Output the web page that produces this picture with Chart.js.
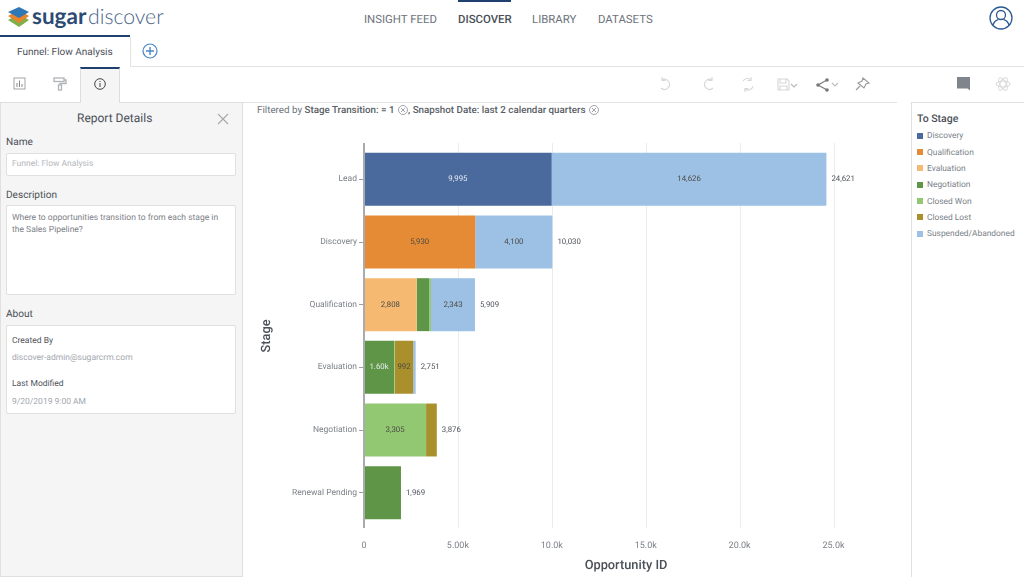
<!DOCTYPE html>
<html>
<head>
<meta charset="utf-8">
<title>Funnel: Flow Analysis</title>
<script src="https://cdn.jsdelivr.net/npm/chart.js@4"></script>
<style>
  html, body { margin: 0; padding: 0; background: #fff; overflow: hidden; }
  body { width: 1024px; height: 577px; position: relative; font-family: Roboto, sans-serif; color: #5c626b; text-rendering: geometricPrecision; }
  .t { position: absolute; white-space: nowrap; line-height: 14px; margin-top: -6.5px; }
  .box { position: absolute; box-sizing: border-box; }
  svg { position: absolute; overflow: visible; }
  canvas { position: absolute; left: 250px; top: 130px; }
  .nav { font-size: 11.4px; color: #6d737b; }
  .lbl { font-size: 10.1px; color: #4b5058; }
  .field { background: #fff; border: 1px solid #e0e0e0; border-radius: 2px; }
  .sm { font-size: 8.5px; color: #a3a7ad; }
  .smd { font-size: 8.5px; color: #4f545c; }
  .leg { font-size: 8.4px; color: #7a7f87; }
</style>
</head>
<body>

<!-- logo -->
<svg width="60" height="36" style="left:0;top:0">
  <path d="M8 20 L19 14 L29 20 L19 27 Z" fill="#7db04b"/>
  <path d="M8 16 L19 10 L29 16 L19 23 Z" fill="#e8842c"/>
  <path d="M8 12 L19 7 L29 12 L19 18 Z" fill="#2f77b5"/>
</svg>
<div class="t" style="left:32px;top:16px;font:700 22.5px/28px Lato,sans-serif;margin-top:-14px;color:#2b4a74">sugar</div>
<div class="t" style="left:88px;top:16px;font:300 21.2px/28px Lato,sans-serif;margin-top:-14px;color:#4a6488">discover</div>

<!-- top nav -->
<div class="t nav" style="left:364px;top:18px">INSIGHT FEED</div>
<div class="t nav" style="left:458px;top:18px;font-weight:500;color:#4b5058">DISCOVER</div>
<div class="box" style="left:458px;top:0;width:53px;height:2px;background:#1f3f6e"></div>
<div class="t nav" style="left:532px;top:18px">LIBRARY</div>
<div class="t nav" style="left:598px;top:18px">DATASETS</div>
<svg width="24" height="24" style="left:989px;top:6px" fill="none" stroke="#2f5b94" stroke-width="1.3">
  <circle cx="12" cy="12" r="11"/><circle cx="12" cy="9" r="4.5"/>
  <path d="M4 19.5 C5 14.5 8 14 9.5 13.5 M20 19.5 C19 14.5 16 14 14.5 13.5"/>
</svg>

<!-- report tab row -->
<div class="box" style="left:0;top:35px;width:130px;height:2px;background:#1f3f6e"></div>
<div class="box" style="left:130px;top:37px;width:1px;height:30px;background:#e2e2e2"></div>
<div class="box" style="left:130px;top:66px;width:894px;height:1px;background:#e2e2e2"></div>
<div class="t" style="left:17px;top:52px;font-size:10px;color:#4b5058">Funnel: Flow Analysis</div>
<svg width="16" height="16" style="left:142px;top:43px" fill="none" stroke="#4a86c8" stroke-width="1.2">
  <circle cx="8" cy="8" r="7"/><path d="M8 4V12M4 8H12" stroke-width="1.4"/>
</svg>

<!-- tool row -->
<svg width="14" height="14" style="left:13px;top:77px" fill="none" stroke="#a0a4a8">
  <rect x="1" y="1" width="11" height="11"/><path d="M4 10V6M6.5 10V3.5M9 10V7" stroke="#888"/>
</svg>
<svg width="14" height="14" style="left:53px;top:77px" fill="none" stroke="#b0b3b7" stroke-width="1.3">
  <rect x="1" y="1" width="10" height="3.5"/><path d="M11 3H13V6.5H7V8"/><rect x="5.5" y="8" width="3" height="5"/>
</svg>
<div class="box" style="left:80px;top:67px;width:40px;height:36px;background:#f5f5f5;border:1px solid #ddd;border-bottom:none;border-top:2px solid #1f3f6e"></div>
<svg width="12" height="12" style="left:94px;top:78px" fill="none" stroke="#444">
  <circle cx="6" cy="6" r="5.3"/><path d="M6 5V9M6 3V4"/>
</svg>
<div class="box" style="left:119px;top:102px;width:778px;height:1px;background:#e2e2e2"></div>

<svg width="240" height="20" style="left:655px;top:75px" fill="none" stroke="#d6d6d6" stroke-width="1.1">
  <path d="M7 5 A5 5 0 1 1 6 13 M7 2V5.5H10.5"/>
  <path d="M57 5 A5 5 0 1 0 58 13 M57 2V5.5H53.5"/>
  <path d="M88 6 A5 5 0 0 1 96 5 M98 11 A5 5 0 0 1 90 14 M96 2V5.5H92.5M90 17V13.5H93.5"/>
  <path d="M123 4H132L134 6V15H123ZM125 4V8H131V4M125 15V11H132V15"/>
  <path d="M136 9L139 12L142 9" stroke="#bbb"/>
  <path d="M163 10L172 5M163 10L172 15" stroke="#777"/><circle cx="163" cy="10" r="1.8" fill="#777" stroke="none"/><circle cx="172" cy="5" r="1.8" fill="#777" stroke="none"/><circle cx="172" cy="15" r="1.8" fill="#777" stroke="none"/>
  <path d="M177 8L180 11L183 8" stroke="#bbb"/>
  <path d="M208 3L214 8L211 9L209 13L203 8L207 6ZM205 11L201 15" stroke="#999"/>
</svg>
<svg width="16" height="16" style="left:957px;top:77px"><path d="M0 0H13V11.5H13V13.5L10.5 11.5H0Z" fill="#80848c"/></svg>
<svg width="16" height="16" style="left:995px;top:76px" fill="none" stroke="#d8d8d8">
  <ellipse cx="8" cy="8" rx="7" ry="3"/><ellipse cx="8" cy="8" rx="7" ry="3" transform="rotate(60 8 8)"/><ellipse cx="8" cy="8" rx="7" ry="3" transform="rotate(120 8 8)"/>
</svg>

<!-- report details panel -->
<div class="box" style="left:0;top:102px;width:243px;height:475px;background:#f5f5f5;border:1px solid #e0e0e0"></div>
<div class="box" style="left:81px;top:101px;width:38px;height:2px;background:#f5f5f5"></div>
<div class="t" style="left:77px;top:117px;font-size:12px;color:#4b5058">Report Details</div>
<svg width="12" height="12" style="left:217px;top:113px" stroke="#a8a8a8" stroke-width="1.1"><path d="M1 1L11 11M11 1L1 11"/></svg>
<div class="t lbl" style="left:6px;top:142px">Name</div>
<div class="box field" style="left:6px;top:153px;width:230px;height:23px"></div>
<div class="t sm" style="left:12px;top:163px;color:#b4b7bc">Funnel: Flow Analysis</div>
<div class="t lbl" style="left:6px;top:195px">Description</div>
<div class="box field" style="left:6px;top:205px;width:230px;height:90px"></div>
<div class="t sm" style="left:12px;top:217px;color:#7d8188">Where to opportunities transition to from each stage in</div>
<div class="t sm" style="left:12px;top:229px;color:#7d8188">the Sales Pipeline?</div>
<div class="t lbl" style="left:6px;top:314px">About</div>
<div class="box field" style="left:6px;top:325px;width:230px;height:89px"></div>
<div class="t smd" style="left:12px;top:340px">Created By</div>
<div class="t sm" style="left:12px;top:357px">discover-admin@sugarcrm.com</div>
<div class="t smd" style="left:12px;top:383px">Last Modified</div>
<div class="t sm" style="left:12px;top:401px">9/20/2019 9:00 AM</div>

<!-- filter line -->
<div class="t" style="left:257px;top:110px;font-size:9.8px;color:#6d737b">Filtered by <span style="font-weight:500;color:#595e66">Stage Transition: = 1</span></div>
<svg width="10" height="10" style="left:398px;top:105px" fill="none" stroke="#8a8e94" stroke-width=".8"><circle cx="5" cy="5" r="4.5"/><path d="M3 3L7 7M7 3L3 7"/></svg>
<div class="t" style="left:408px;top:110px;font-size:9.8px;font-weight:500;color:#595e66">, Snapshot Date: last 2 calendar quarters</div>
<svg width="10" height="10" style="left:589px;top:105px" fill="none" stroke="#8a8e94" stroke-width=".8"><circle cx="5" cy="5" r="4.5"/><path d="M3 3L7 7M7 3L3 7"/></svg>

<!-- legend panel -->
<div class="box" style="left:911px;top:102px;width:113px;height:475px;border-left:1px solid #e0e0e0;border-top:1px solid #e0e0e0"></div>
<div class="t" style="left:917px;top:118px;font-size:10.5px;font-weight:500;color:#4b5058">To Stage</div>
<div id="legend"></div>

<canvas id="chart" width="650" height="447"></canvas>

<script>
const stages = ["Lead", "Discovery", "Qualification", "Evaluation", "Negotiation", "Renewal Pending"]
const seriesNames = ["Discovery", "Qualification", "Evaluation", "Negotiation", "Closed Won", "Closed Lost", "Suspended/Abandoned"]
const seriesColors = ["#4a6a9e", "#e68b35", "#f5b971", "#5f9546", "#92c872", "#aa8f2d", "#9dc1e5"]

const toDiscovery = [9995, 0, 0, 0, 0, 0]
const toQualification = [0, 5930, 0, 0, 0, 0]
const toEvaluation = [0, 0, 2808, 0, 0, 0]
const toNegotiation = [0, 0, 660, 1600, 0, 1969]
const toClosedWon = [0, 0, 98, 33, 3305, 0]
const toClosedLost = [0, 0, 0, 992, 571, 0]
const toSuspended = [14626, 4100, 2343, 126, 0, 0]

const segmentLabels = [
  ["9,995", null, null, null, null, null],
  [null, "5,930", null, null, null, null],
  [null, null, "2,808", null, null, null],
  [null, null, null, "1.60k", null, null],
  [null, null, null, null, "3,305", null],
  [null, null, null, "992", null, null],
  ["14,626", "4,100", "2,343", null, null, null]
]
const whiteLabelSeries = ["Discovery"]
const xTickValues = [0, 5000, 10000, 15000, 20000, 25000]
const xTickLabels = ["0", "5.00k", "10.0k", "15.0k", "20.0k", "25.0k"]

const seriesValues = [toDiscovery, toQualification, toEvaluation, toNegotiation, toClosedWon, toClosedLost, toSuspended]

// legend is plain html, sits in its own panel
const legendTops = [135.5, 152, 168, 184.5, 201, 217, 233.5]
document.getElementById("legend").innerHTML = seriesNames.map((name, i) =>
  `<div class="box" style="left:917px;top:${legendTops[i] - 3}px;width:6px;height:6px;background:${seriesColors[i]}"></div>` +
  `<div class="t leg" style="left:927px;top:${legendTops[i]}px">${name}</div>`
).join("")

const barExtras = {
  id: "barExtras",
  beforeDraw(chart) {
    chart.ctx.textRendering = "geometricPrecision"
  },
  beforeDatasetsDraw(chart) {
    const { ctx, scales: { x }, chartArea } = chart
    ctx.save()
    ctx.strokeStyle = "#ececec"
    ctx.lineWidth = 1
    xTickValues.slice(1).forEach(v => {
      const px = Math.round(x.getPixelForValue(v)) + 0.5
      ctx.beginPath()
      ctx.moveTo(px, chartArea.top - 5)
      ctx.lineTo(px, chartArea.bottom + 4)
      ctx.stroke()
    })
    ctx.restore()
  },
  afterDatasetsDraw(chart) {
    const { ctx, scales: { x }, chartArea } = chart
    ctx.save()
    // axis line sticks out a bit past the bars
    ctx.strokeStyle = "#a9abae"
    ctx.lineWidth = 2
    ctx.beginPath()
    ctx.moveTo(x.getPixelForValue(0), chartArea.top - 5)
    ctx.lineTo(x.getPixelForValue(0), chartArea.bottom + 4)
    ctx.stroke()

    ctx.font = "7.8px Roboto"
    ctx.textBaseline = "middle"
    ctx.textAlign = "center"
    chart.data.datasets.forEach((ds, di) => {
      const meta = chart.getDatasetMeta(di)
      meta.data.forEach((bar, i) => {
        const text = segmentLabels[di][i]
        if (!text) return
        ctx.fillStyle = whiteLabelSeries.includes(ds.label) || text === "1.60k" ? "#e9edf3" : "#4a4a45"
        ctx.fillText(text, (bar.x + bar.base) / 2, bar.y)
      })
    })

    ctx.textAlign = "left"
    ctx.fillStyle = "#4b5058"
    stages.forEach((s, i) => {
      const total = seriesValues.reduce((sum, vals) => sum + vals[i], 0)
      const barY = chart.getDatasetMeta(0).data[i].y
      ctx.fillText(total.toLocaleString("en-US"), x.getPixelForValue(total) + 5, barY)
    })
    ctx.restore()
  }
}

new Chart(document.getElementById("chart"), {
  type: "bar",
  data: {
    labels: stages,
    datasets: seriesNames.map((name, i) => ({
      label: name,
      data: seriesValues[i],
      backgroundColor: seriesColors[i],
      barPercentage: 0.845,
      categoryPercentage: 1
    }))
  },
  plugins: [barExtras],
  options: {
    indexAxis: "y",
    responsive: false,
    animation: false,
    layout: { padding: { left: 9.6, top: 18, right: 12, bottom: 3.6 } },
    plugins: {
      legend: { display: false },
      tooltip: { enabled: false }
    },
    scales: {
      x: {
        stacked: true,
        min: 0,
        max: 27900,
        afterFit(scale) { scale.height = 49.4 },
        afterBuildTicks(scale) { scale.ticks = xTickValues.map(value => ({ value })) },
        grid: { display: false },
        border: { display: false },
        ticks: {
          autoSkip: false,
          maxRotation: 0,
          padding: 8,
          color: "#7d8188",
          font: { family: "Roboto", size: 9 },
          callback: v => xTickLabels[xTickValues.indexOf(v)]
        },
        title: {
          display: true,
          text: "Opportunity ID",
          color: "#4b5058",
          font: { family: "Roboto", size: 12.8, weight: "500" },
          padding: 0
        }
      },
      y: {
        stacked: true,
        afterFit(scale) { scale.width = 104.4 },
        grid: { drawOnChartArea: false, offset: false, tickLength: 5, tickColor: "#9a9da1" },
        border: { display: false },
        ticks: {
          padding: 2,
          color: "#7d8188",
          font: { family: "Roboto", size: 8.5 }
        },
        title: {
          display: true,
          text: "Stage",
          color: "#4b5058",
          font: { family: "Roboto", size: 12.8, weight: "500" },
          padding: 0
        }
      }
    }
  }
})
</script>
</body>
</html>
